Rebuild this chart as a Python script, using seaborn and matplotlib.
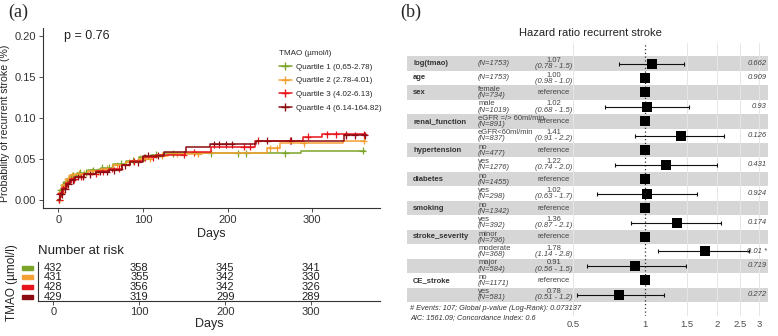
import numpy as np
import pandas as pd
import matplotlib
matplotlib.use('Agg')
import matplotlib.pyplot as plt
from matplotlib.lines import Line2D
from matplotlib.patches import Rectangle
from matplotlib.transforms import blended_transform_factory
import seaborn as sns

# ---- panel (a) data: Kaplan-Meier cumulative incidence
groups = ['Quartile 1 (0,65-2.78)', 'Quartile 2 (2.78-4.01)',
          'Quartile 3 (4.02-6.13)', 'Quartile 4 (6.14-164.82)']
colors = ['#7BA428', '#F5A035', '#E8141C', '#8A0C12']

q1_t = [0, 2, 4, 7, 10, 15, 22, 35, 50, 65, 80, 95, 110, 125, 287, 362]
q1_p = [0, 0.012, 0.018, 0.022, 0.026, 0.030, 0.033, 0.036, 0.039, 0.044, 0.048, 0.052, 0.055, 0.057, 0.060, 0.060]
q2_t = [0, 2, 5, 9, 14, 20, 35, 50, 65, 80, 95, 110, 130, 170, 247, 262, 336, 362]
q2_p = [0, 0.010, 0.018, 0.025, 0.030, 0.032, 0.035, 0.038, 0.042, 0.046, 0.050, 0.054, 0.056, 0.057, 0.063, 0.069, 0.072, 0.072]
q3_t = [0, 2, 5, 9, 14, 20, 30, 45, 60, 75, 85, 100, 115, 150, 180, 232, 289, 312, 362]
q3_p = [0, 0.008, 0.014, 0.020, 0.025, 0.028, 0.032, 0.035, 0.038, 0.043, 0.047, 0.052, 0.055, 0.058, 0.065, 0.072, 0.077, 0.080, 0.080]
q4_t = [0, 2, 5, 9, 14, 20, 30, 45, 60, 75, 85, 100, 125, 151, 179, 234, 338, 362]
q4_p = [0, 0.007, 0.013, 0.019, 0.024, 0.028, 0.031, 0.034, 0.036, 0.042, 0.046, 0.054, 0.058, 0.065, 0.068, 0.072, 0.079, 0.079]

# censoring times
q1_c = [1, 3, 6, 9, 13, 18, 26, 33, 41, 52, 60, 74, 88, 101, 116, 135, 180, 212, 222, 268, 360]
q2_c = [1, 4, 7, 11, 16, 24, 31, 40, 47, 58, 69, 84, 97, 108, 122, 140, 165, 250, 258, 290, 361]
q3_c = [1, 3, 6, 10, 15, 19, 27, 38, 44, 53, 64, 72, 90, 103, 112, 148, 160, 219, 227, 236, 274, 295, 318, 328, 340, 361]
q4_c = [2, 4, 8, 12, 17, 23, 29, 37, 49, 57, 66, 79, 94, 106, 118, 184, 190, 198, 205, 247, 275, 340, 350, 362]

risk_times = [0, 100, 200, 300]
risk_q1 = [432, 358, 345, 341]
risk_q2 = [431, 355, 342, 330]
risk_q3 = [428, 356, 342, 326]
risk_q4 = [429, 319, 299, 289]

# ---- panel (b) data: hazard ratios
var_names = ['log(tmao)', 'age', 'sex', '', 'renal_function', '', 'hypertension', '',
             'diabetes', '', 'smoking', '', 'stroke_severity', '', '', 'CE_stroke', '']
levels = ['', '', 'female', 'male', 'eGFR =/> 60ml/min', 'eGFR<60ml/min', 'no', 'yes',
          'no', 'yes', 'no', 'yes', 'minor', 'moderate', 'major', 'no', 'yes']
n_obs = [1753, 1753, 734, 1019, 891, 837, 477, 1276, 1455, 298, 1342, 392, 796, 368, 584, 1171, 581]
hr = [1.07, 1.00, 1, 1.02, 1, 1.41, 1, 1.22, 1, 1.02, 1, 1.36, 1, 1.78, 0.91, 1, 0.78]
ci_lo = [0.78, 0.98, np.nan, 0.68, np.nan, 0.91, np.nan, 0.75, np.nan, 0.63, np.nan, 0.87,
         np.nan, 1.13, 0.57, np.nan, 0.52]
ci_hi = [1.46, 1.02, np.nan, 1.53, np.nan, 2.14, np.nan, 2.0, np.nan, 1.65, np.nan, 2.08,
         np.nan, 2.72, 1.48, np.nan, 1.2]
hr_txt = ['1.07', '1.00', '', '1.02', '', '1.41', '', '1.22', '', '1.02', '', '1.36', '', '1.78', '0.91', '', '0.78']
ci_txt = ['(0.78 - 1.5)', '(0.98 - 1.0)', '', '(0.68 - 1.5)', '', '(0.91 - 2.2)', '', '(0.74 - 2.0)', '',
          '(0.63 - 1.7)', '', '(0.87 - 2.1)', '', '(1.14 - 2.8)', '(0.56 - 1.5)', '', '(0.51 - 1.2)']
p_txt = ['0.662', '0.909', '', '0.93', '', '0.126', '', '0.431', '', '0.924', '', '0.174', '',
         '0.01 *', '0.719', '', '0.272']
hr_ticks = [0.5, 1, 1.5, 2, 2.5, 3]

sns.set_style('ticks')
plt.rcParams['font.family'] = ['Liberation Sans', 'DejaVu Sans']

fig = plt.figure(figsize=(7.78, 3.36), dpi=100)

# ---------------- KM curves
curves = [(q1_t, q1_p, q1_c), (q2_t, q2_p, q2_c), (q3_t, q3_p, q3_c), (q4_t, q4_p, q4_c)]
km_rows, cens_rows = [], []
for g, (t, p, c) in zip(groups, curves):
    km_rows.append(pd.DataFrame({'time': t, 'prob': p, 'group': g}))
    idx = np.searchsorted(t, c, side='right') - 1
    cens_rows.append(pd.DataFrame({'time': c, 'prob': np.array(p)[idx], 'group': g}))
km = pd.concat(km_rows, ignore_index=True)
cens = pd.concat(cens_rows, ignore_index=True)

ax = fig.add_axes([0.0553, 0.381, 0.433, 0.5357])
sns.lineplot(data=km, x='time', y='prob', hue='group', hue_order=groups, palette=colors,
             drawstyle='steps-post', linewidth=1.1, estimator=None, legend=False, ax=ax)
sns.scatterplot(data=cens, x='time', y='prob', hue='group', hue_order=groups, palette=colors,
                marker='+', s=25, linewidth=0.9, legend=False, ax=ax)
ax.set_xlim(-18, 380)
ax.set_ylim(-0.01, 0.21)
ax.set_xticks([0, 100, 200, 300])
ax.set_yticks([0, 0.05, 0.10, 0.15, 0.20])
ax.set_yticklabels(['0.00', '0.05', '0.10', '0.15', '0.20'])
ax.tick_params(labelsize=8, colors='#333333', length=3, width=0.6, pad=2)
ax.set_xlabel('Days', fontsize=9, labelpad=2)
ax.set_ylabel('Probability of recurrent stroke (%)', fontsize=7.6)
ax.yaxis.set_label_coords(-0.098, 0.47)
for s in ['left', 'bottom']:
    ax.spines[s].set_color('#333333')
    ax.spines[s].set_linewidth(0.8)
sns.despine(ax=ax)
ax.text(0.062, 0.956, 'p = 0.76', transform=ax.transAxes, fontsize=9, va='center', color='#222222')
handles = [Line2D([], [], color=c, marker='+', lw=1.1, markersize=6) for c in colors]
leg = ax.legend(handles, groups, title='TMAO (µmol/l)', loc='upper left',
                bbox_to_anchor=(0.69, 0.895), frameon=False, fontsize=5.8, title_fontsize=5.8,
                handlelength=1.6, labelspacing=0.75, borderaxespad=0, handletextpad=0.6)
leg._legend_box.align = 'left'

fig.text(0.010, 0.962, '(a)', fontsize=13, family='Liberation Serif', va='center')

# ---------------- Number at risk table
axr = fig.add_axes([0.0488, 0.1042, 0.4396, 0.116])
for i, vals in enumerate([risk_q1, risk_q2, risk_q3, risk_q4]):
    for t, v in zip(risk_times, vals):
        axr.text(t, i, str(v), ha='center', va='center', fontsize=8, color='#222222')
axr.set_xlim(-18, 380)
axr.set_ylim(3.45, -0.6)
axr.set_xticks([0, 100, 200, 300])
axr.set_yticks([])
axr.tick_params(labelsize=8, colors='#333333', length=3, width=0.6, pad=1)
axr.set_xlabel('Days', fontsize=9, labelpad=1)
for s in ['left', 'bottom']:
    axr.spines[s].set_color('#333333')
    axr.spines[s].set_linewidth(0.8)
sns.despine(ax=axr)
tr = blended_transform_factory(fig.transFigure, axr.transData)
for i, c in enumerate(colors):
    axr.add_patch(Rectangle((22 / 778, i - 0.2), 11 / 778, 0.4, transform=tr, color=c, clip_on=False))
fig.text(38 / 778, 1 - 251 / 336, 'Number at risk', fontsize=9.5, va='center', color='#222222')
fig.text(12 / 778, 1 - 283 / 336, 'TMAO (µmol/l)', fontsize=8.5, rotation=90, ha='center', va='center', color='#222222')

# ---------------- Forest plot
axf = fig.add_axes([0.5231, 0.0595, 0.464, 0.8125])
axf.set_xscale('log')
axf.set_xlim(0.1014, 3.26)
axf.set_ylim(17.47, -1.42)
rows = np.arange(len(hr))
for i in rows:
    if i % 2 == 0:
        axf.axhspan(i - 0.5, i + 0.5, color='#d6d6d6', zorder=0, lw=0)
for t in hr_ticks:
    if t != 1:
        axf.axvline(t, color='#e6e6e6', lw=0.7, zorder=1)
axf.axvline(1, color='#333333', lw=0.9, ls=(0, (1, 2)), zorder=2)

fdf = pd.DataFrame({'row': rows, 'hr': hr, 'lo': ci_lo, 'hi': ci_hi})
ci = fdf.dropna()
axf.errorbar(ci['hr'], ci['row'], xerr=[ci['hr'] - ci['lo'], ci['hi'] - ci['hr']],
             fmt='none', ecolor='#111111', elinewidth=0.8, capsize=1.5, capthick=0.8, zorder=3)
sns.scatterplot(data=fdf, x='hr', y='row', marker='s', s=55, color='black', edgecolor='black',
                linewidth=0, zorder=4, ax=axf, legend=False)

ytr = axf.get_yaxis_transform()
small = 5.5
for i in rows:
    if var_names[i]:
        axf.text(0.017, i, var_names[i], transform=ytr, fontsize=small, weight='bold',
                 va='center', color='#333333')
    if levels[i]:
        axf.text(0.197, i - 0.2, levels[i], transform=ytr, fontsize=small, va='center', color='#444444')
        axf.text(0.197, i + 0.22, f'(N={n_obs[i]})', transform=ytr, fontsize=small, style='italic',
                 va='center', color='#444444')
    else:
        axf.text(0.197, i, f'(N={n_obs[i]})', transform=ytr, fontsize=small, style='italic',
                 va='center', color='#444444')
    if hr_txt[i]:
        axf.text(0.407, i - 0.2, hr_txt[i], transform=ytr, fontsize=small, ha='center', va='center',
                 color='#444444')
        axf.text(0.407, i + 0.22, ci_txt[i], transform=ytr, fontsize=small, style='italic',
                 ha='center', va='center', color='#444444')
    else:
        axf.text(0.407, i, 'reference', transform=ytr, fontsize=small, ha='center', va='center',
                 color='#444444')
    if p_txt[i]:
        axf.text(0.997, i, p_txt[i], transform=ytr, fontsize=small, style='italic', ha='right',
                 va='center', color='#444444')

axf.set_xticks(hr_ticks)
axf.set_xticklabels(['0.5', '1', '1.5', '2', '2.5', '3'])
axf.minorticks_off()
axf.set_yticks([])
axf.tick_params(axis='x', length=0, labelsize=6.8, colors='#4d4d4d', pad=3)
axf.set_xlabel('')
axf.set_ylabel('')
for s in axf.spines.values():
    s.set_visible(False)

fig.text(590 / 778, 1 - 33 / 336, 'Hazard ratio recurrent stroke', fontsize=8, ha='center',
         va='center', color='#222222')
fig.text(410 / 778, 1 - 309 / 336, '# Events: 107; Global p-value (Log-Rank): 0.073137',
         fontsize=5.3, style='italic', va='center', color='#333333')
fig.text(410 / 778, 1 - 318 / 336, 'AIC: 1561.09; Concordance Index: 0.6',
         fontsize=5.3, style='italic', va='center', color='#333333')
fig.text(400 / 778, 0.962, '(b)', fontsize=13, family='Liberation Serif', va='center')

fig.savefig('out.png', dpi=100)
